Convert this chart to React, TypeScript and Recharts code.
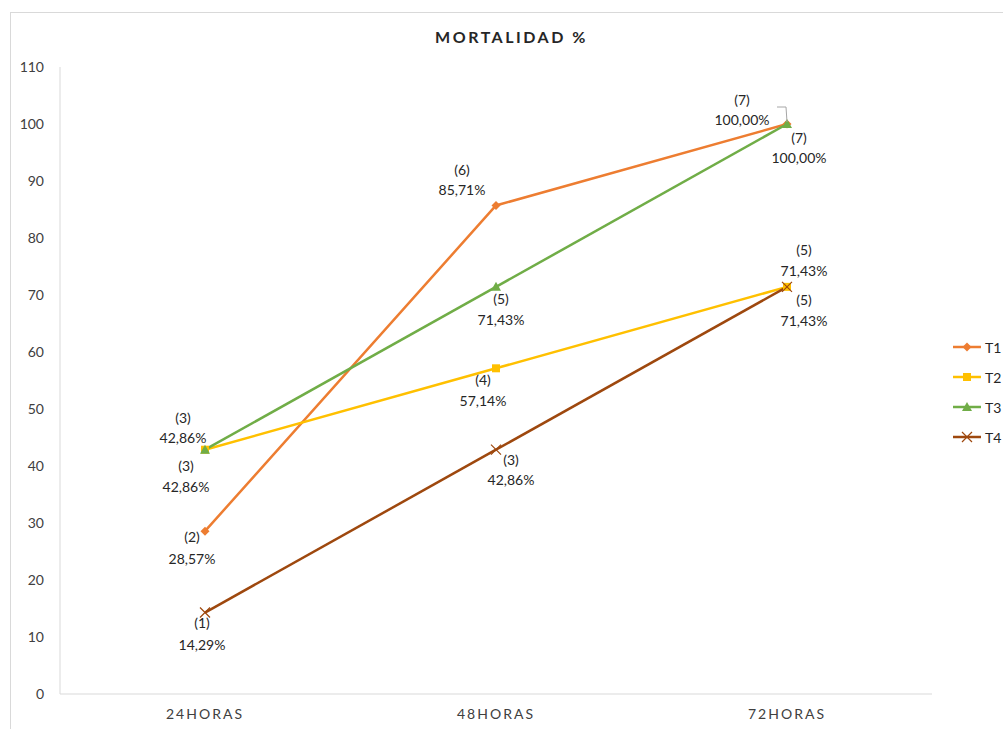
import { LabelList, Line, LineChart, XAxis, YAxis } from "recharts"

const categories = ["24HORAS", "48HORAS", "72HORAS"]
const t1 = [28.57, 85.71, 100]
const t2 = [42.86, 57.14, 71.43]
const t3 = [42.86, 71.43, 100]
const t4 = [14.29, 42.86, 71.43]
const t1Count = [2, 6, 7]
const t2Count = [3, 4, 5]
const t3Count = [3, 5, 7]
const t4Count = [1, 3, 5]
const yTicks = [0, 10, 20, 30, 40, 50, 60, 70, 80, 90, 100, 110]

type SeriesKey = "T1" | "T2" | "T3" | "T4"

const SERIES: { key: SeriesKey; color: string }[] = [
    { key: "T1", color: "#ED7D31" },
    { key: "T2", color: "#FFC000" },
    { key: "T3", color: "#70AD47" },
    { key: "T4", color: "#9E480E" },
]

const COUNTS: Record<SeriesKey, number[]> = { T1: t1Count, T2: t2Count, T3: t3Count, T4: t4Count }

// label placement per point: [dx, dy of first line, dy of second line]
const LABEL_OFFSETS: Record<SeriesKey, [number, number, number][]> = {
    T1: [[-13, 5, 27], [-34, -36, -16], [-45, -25, -5]],
    T2: [[-22, -32, -12], [-13, 11, 32], [17, -37, -16]],
    T3: [[-19, 16, 37], [5, 12, 33], [12, 13, 33]],
    T4: [[-3, 10, 32], [15, 10, 30], [17, 13, 34]],
}

const data = categories.map((name, i) => ({ name, T1: t1[i], T2: t2[i], T3: t3[i], T4: t4[i] }))

const FONT = "Lato, 'Open Sans', sans-serif"
const TEXT = "#262626"
const AXIS_TEXT = "#404040"

const formatPct = (v: number) => v.toFixed(2).replace(".", ",") + "%"

const Marker = ({ series, cx, cy, color }: { series: SeriesKey; cx: number; cy: number; color: string }) => {
    if (series === "T1") {
        return <path d={`M${cx},${cy - 4.5}L${cx + 4.5},${cy}L${cx},${cy + 4.5}L${cx - 4.5},${cy}Z`} fill={color} />
    }
    if (series === "T2") {
        return <rect x={cx - 4} y={cy - 4} width={8} height={8} fill={color} />
    }
    if (series === "T3") {
        return <path d={`M${cx},${cy - 5}L${cx + 5},${cy + 4}L${cx - 5},${cy + 4}Z`} fill={color} />
    }
    return (
        <path
            d={`M${cx - 5},${cy - 5}L${cx + 5},${cy + 5}M${cx + 5},${cy - 5}L${cx - 5},${cy + 5}`}
            stroke={color}
            strokeWidth={1.2}
            fill="none"
        />
    )
}

const renderDot = (series: SeriesKey, color: string) => (props: any) => {
    const { cx, cy, index } = props
    return (
        <g key={`${series}-dot-${index}`}>
            <Marker series={series} cx={cx} cy={cy} color={color} />
        </g>
    )
}

const renderLabel = (series: SeriesKey) => (props: any) => {
    const { x, y, value, index } = props
    const [dx, dy1, dy2] = LABEL_OFFSETS[series][index]
    const lx = x + dx
    const leader = series === "T1" && index === 2
    return (
        <g key={`${series}-label-${index}`}>
            {leader && (
                <polyline
                    points={`${x - 10},${y - 17} ${x - 1},${y - 17} ${x},${y - 2}`}
                    fill="none"
                    stroke="#a6a6a6"
                    strokeWidth={1}
                />
            )}
            <text x={lx} y={y + dy1} textAnchor="middle" dominantBaseline="central" fontSize={14} fill={TEXT} fontFamily={FONT}>
                ({COUNTS[series][index]})
            </text>
            <text x={lx} y={y + dy2} textAnchor="middle" dominantBaseline="central" fontSize={14} fill={TEXT} fontFamily={FONT}>
                {formatPct(value)}
            </text>
        </g>
    )
}

const SeriesLegend = () => (
    <div style={{ position: "absolute", left: 950, top: 332, fontFamily: FONT, fontSize: 14, color: TEXT }}>
        {SERIES.map((s) => (
            <div key={s.key} style={{ display: "flex", alignItems: "center", height: 30 }}>
                <svg width={32} height={14}>
                    <line x1={3} y1={7} x2={31} y2={7} stroke={s.color} strokeWidth={2.5} />
                    <Marker series={s.key} cx={17} cy={7} color={s.color} />
                </svg>
                <span style={{ marginLeft: 3 }}>{s.key}</span>
            </div>
        ))}
    </div>
)

export default function App() {
    return (
        <div style={{ position: "absolute", left: 0, top: 0, width: 1003, height: 729, overflow: "hidden", background: "#fff" }}>
            <div
                style={{
                    position: "absolute",
                    left: 10,
                    top: 12,
                    width: 1010,
                    height: 740,
                    border: "1px solid #d9d9d9",
                }}
            />
            <div
                style={{
                    position: "absolute",
                    top: 27,
                    left: 0,
                    width: 1023,
                    textAlign: "center",
                    fontFamily: FONT,
                    fontWeight: 700,
                    fontSize: 16,
                    letterSpacing: 2.5,
                    color: TEXT,
                }}
            >
                MORTALIDAD %
            </div>
            <LineChart
                width={1003}
                height={729}
                data={data}
                margin={{ top: 67, right: 71, bottom: 5, left: 0 }}
                style={{ position: "absolute", left: 0, top: 0 }}
            >
                <XAxis
                    dataKey="name"
                    height={30}
                    padding={{ left: 145, right: 145 }}
                    axisLine={{ stroke: "#d9d9d9" }}
                    tickLine={false}
                    tickSize={0}
                    tickMargin={15}
                    tick={{ fontSize: 14, fill: AXIS_TEXT, fontFamily: FONT, letterSpacing: 2 }}
                />
                <YAxis
                    width={60}
                    domain={[0, 110]}
                    ticks={yTicks}
                    interval={0}
                    axisLine={{ stroke: "#d9d9d9" }}
                    tickLine={false}
                    tickSize={0}
                    tickMargin={16}
                    tick={{ fontSize: 14, fill: AXIS_TEXT, fontFamily: FONT }}
                />
                {SERIES.map((s) => (
                    <Line
                        key={s.key}
                        dataKey={s.key}
                        stroke={s.color}
                        strokeWidth={2.5}
                        dot={renderDot(s.key, s.color)}
                        activeDot={false}
                        isAnimationActive={false}
                    >
                        <LabelList dataKey={s.key} content={renderLabel(s.key)} />
                    </Line>
                ))}
            </LineChart>
            <SeriesLegend />
        </div>
    )
}
